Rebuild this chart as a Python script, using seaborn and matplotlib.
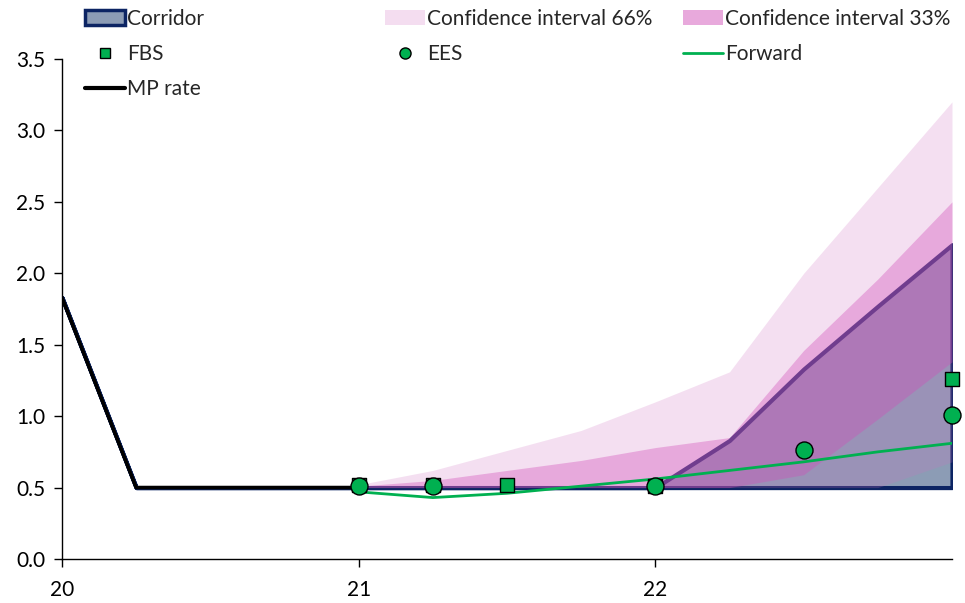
import numpy as np
import pandas as pd
import matplotlib
matplotlib.use("Agg")
import matplotlib.pyplot as plt
import seaborn as sns
from matplotlib.patches import Patch
from matplotlib.lines import Line2D

# ---------------- data ----------------
quarters = list(range(13))                 # 2020Q1 .. 2023Q1
tick_pos = [0, 4, 8]
tick_labels = ["20", "21", "22"]

mp_x = [0, 1, 2, 3, 4]
mp_rate = [1.83, 0.5, 0.5, 0.5, 0.5]

corridor_lower = [1.83, 0.5, 0.5, 0.5, 0.5, 0.5, 0.5, 0.5, 0.5, 0.5, 0.5, 0.5, 0.5]
corridor_upper = [1.83, 0.5, 0.5, 0.5, 0.5, 0.5, 0.5, 0.5, 0.5, 0.83, 1.33, 1.77, 2.2]

ci_x = [4, 5, 6, 7, 8, 9, 10, 11, 12]
ci66_upper = [0.52, 0.62, 0.76, 0.90, 1.10, 1.31, 2.00, 2.60, 3.20]
ci66_lower = [0.50, 0.50, 0.50, 0.50, 0.50, 0.50, 0.50, 0.50, 0.68]
ci33_upper = [0.51, 0.55, 0.62, 0.69, 0.78, 0.85, 1.46, 1.96, 2.50]
ci33_lower = [0.50, 0.50, 0.50, 0.50, 0.50, 0.50, 0.59, 0.98, 1.38]

forward_x = [4, 5, 6, 7, 8, 9, 10, 11, 12]
forward = [0.47, 0.43, 0.46, 0.51, 0.56, 0.62, 0.68, 0.75, 0.81]

fbs_x = [4, 5, 6, 8, 12]
fbs = [0.52, 0.52, 0.52, 0.51, 1.26]

ees_x = [4, 5, 8, 10, 12]
ees = [0.51, 0.51, 0.51, 0.76, 1.01]

# ---------------- style ----------------
sns.set_theme(style="white")
plt.rcParams["font.family"] = ["Lato", "DejaVu Sans"]

NAVY = "#0c2463"
CORR = "#8c9cb5"
GREEN = "#00b050"
PINK66 = "#d070c0"
PINK33 = "#d24db8"
FS = 15

fig = plt.figure(figsize=(9.65, 6.03), dpi=100)
ax = fig.add_axes([62 / 965, 1 - 559 / 603, (952 - 62) / 965, (559 - 59) / 603])

# corridor
ax.fill_between(quarters, corridor_lower, corridor_upper, facecolor=CORR,
                edgecolor=NAVY, linewidth=3.0, zorder=1)
# confidence intervals
ax.fill_between(ci_x, ci66_lower, ci66_upper, color=PINK66, alpha=0.22,
                linewidth=0, zorder=2)
ax.fill_between(ci_x, ci33_lower, ci33_upper, color=PINK33, alpha=0.37,
                linewidth=0, zorder=3)

# MP rate
sns.lineplot(x=mp_x, y=mp_rate, ax=ax, color="black", linewidth=2.6, zorder=4)
# Forward
sns.lineplot(x=forward_x, y=forward, ax=ax, color=GREEN, linewidth=2.0, zorder=5)
# FBS & EES
sns.scatterplot(x=fbs_x, y=fbs, ax=ax, marker="s", s=90, color=GREEN,
                edgecolor="black", linewidth=1.0, zorder=6, clip_on=False)
sns.scatterplot(x=ees_x, y=ees, ax=ax, marker="o", s=150, color=GREEN,
                edgecolor="black", linewidth=1.0, zorder=7, clip_on=False)

ax.set_xlim(0, 12)
ax.set_ylim(0, 3.5)
ax.set_yticks(np.arange(0, 3.51, 0.5))
ax.set_yticklabels([f"{v:.1f}" for v in np.arange(0, 3.51, 0.5)])
ax.set_xticks(tick_pos)
ax.set_xticklabels(tick_labels)
for s in ["top", "right"]:
    ax.spines[s].set_visible(False)
for s in ["left", "bottom"]:
    ax.spines[s].set_color("black")
    ax.spines[s].set_linewidth(1.0)
ax.tick_params(axis="both", which="both", direction="out", length=6, width=1,
               color="black", labelsize=FS, labelcolor="black", pad=6,
               left=True, bottom=True)
ax.tick_params(axis="x", pad=9)
ax.set_xlabel("")
ax.set_ylabel("")
ax.grid(False)

# ---------------- legend ----------------
h_corr = Patch(facecolor=CORR, edgecolor=NAVY, linewidth=2.5)
h_66 = Patch(facecolor="#f4ddf0", edgecolor="none")
h_33 = Patch(facecolor="#e8a9dc", edgecolor="none")
h_fbs = Line2D([], [], marker="s", color="none", markerfacecolor=GREEN,
               markeredgecolor="black", markersize=7)
h_ees = Line2D([], [], marker="o", color="none", markerfacecolor=GREEN,
               markeredgecolor="black", markersize=8)
h_fwd = Line2D([], [], color=GREEN, linewidth=2)
h_mp = Line2D([], [], color="black", linewidth=3)

common = dict(loc="upper left", frameon=False, fontsize=FS, handlelength=1.9,
              handleheight=0.7, handletextpad=0.12, labelspacing=0.72,
              borderpad=0, borderaxespad=0)
top = 1 - 9 / 603
leg1 = fig.legend([h_corr, h_fbs, h_mp], ["Corridor", "FBS", "MP rate"],
                  bbox_to_anchor=(85 / 965, top), **common)
leg2 = fig.legend([h_66, h_ees], ["Confidence interval 66%", "EES"],
                  bbox_to_anchor=(385 / 965, top), **common)
leg3 = fig.legend([h_33, h_fwd], ["Confidence interval 33%", "Forward"],
                  bbox_to_anchor=(683 / 965, top), **common)

fig.savefig("out.png", dpi=100)
